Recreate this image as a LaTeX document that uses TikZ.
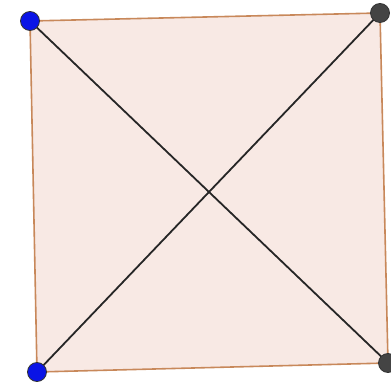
\documentclass[tikz,border=0pt]{standalone}
\usetikzlibrary{calc}
\definecolor{edgebrown}{HTML}{C8885A}
\definecolor{facepink}{HTML}{F8E9E4}
\definecolor{ptblue}{HTML}{0A14E6}
\definecolor{ptgray}{HTML}{444444}
\begin{document}
\begin{tikzpicture}[x=1pt,y=-1pt,
  vertex/.style={circle,draw=black!80,line width=0.8pt,inner sep=0pt,minimum size=19pt}]
\useasboundingbox (0,0) rectangle (391,387);
\coordinate (pA) at (30,21);
\coordinate (pB) at (380,13);
\coordinate (pC) at (388,363);
\coordinate (pD) at (37,372);
\fill[facepink] (pA)--(pB)--(pC)--(pD)--cycle;
\draw[edgebrown,line width=1.6pt] (pA)--(pB)--(pC)--(pD)--cycle;
\draw[black!85,line width=1.8pt] (pA)--(pC);
\draw[black!85,line width=1.8pt] (pB)--(pD);
\node[vertex,fill=ptblue] (A) at (pA) {};
\node[vertex,fill=ptgray] (B) at (pB) {};
\node[vertex,fill=ptgray] (C) at (pC) {};
\node[vertex,fill=ptblue] (D) at (pD) {};
\end{tikzpicture}
\end{document}
